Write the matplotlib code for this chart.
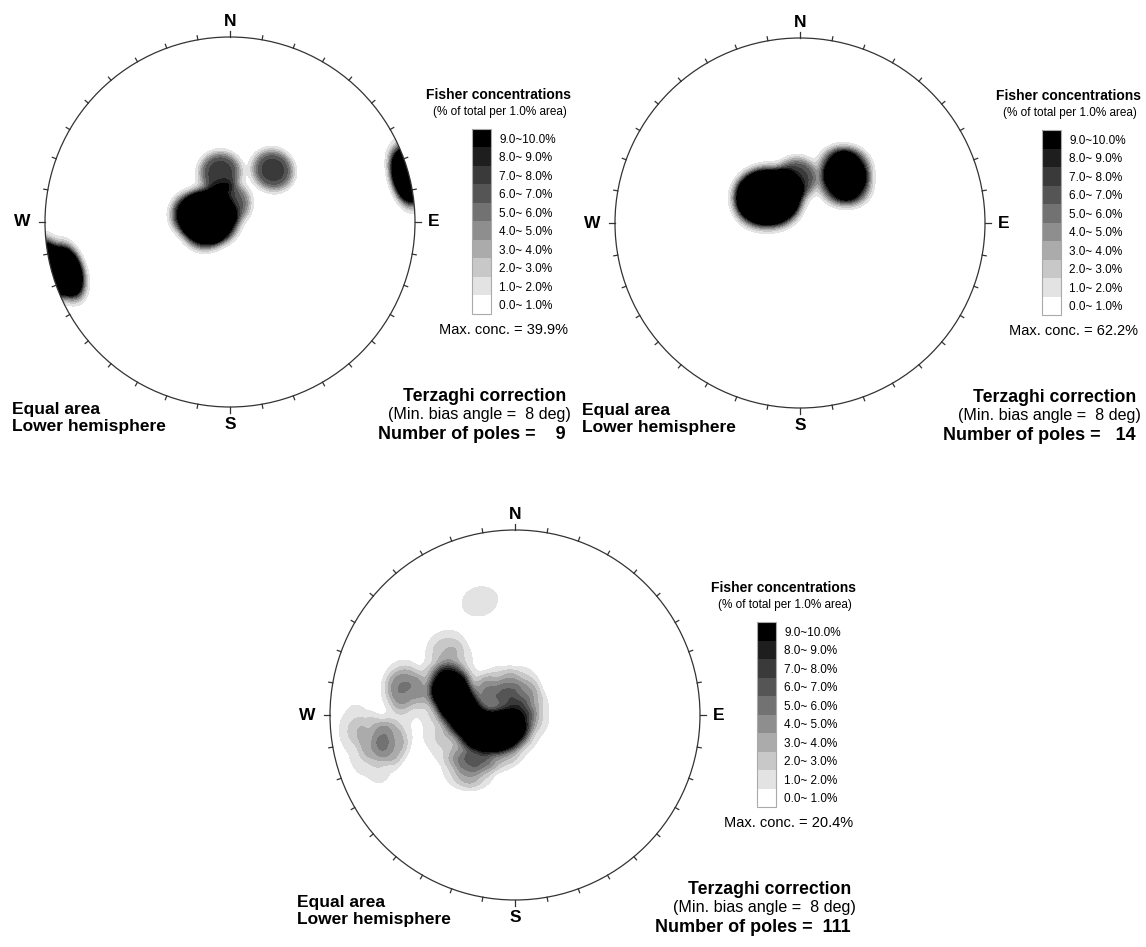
import numpy as np
import matplotlib
matplotlib.use('Agg')
import matplotlib.pyplot as plt
from matplotlib.colors import ListedColormap, BoundaryNorm
from matplotlib.cm import ScalarMappable
from matplotlib.patches import Circle

plt.rcParams['font.family'] = ['Liberation Sans', 'DejaVu Sans']

# figure size in pixels
W_PX, H_PX = 1146, 947

# poles: trend / plunge (deg) and Terzaghi weight
p1_trend = [281.8, 257.2, 302.6, 270.0, 348.7, 0.0, 39.5, 75.5, 253.0]
p1_plunge = [72.9, 78.3, 78.5, 84.3, 67.5, 81.7, 60.1, 1.5, 8.5]
p1_weight = [1.47, 1.47, 1.47, 1.47, 1.0, 0.87, 1.0, 2.3, 2.3]

p2_trend = [309.0, 326.9, 298.9, 318.4, 295.2, 327.5, 307.4, 308.9, 291.5,
            356.3, 36.0, 42.3, 45.7, 52.1]
p2_plunge = [71.7, 76.3, 66.2, 68.6, 74.4, 72.7, 65.9, 78.0, 69.5,
             70.0, 59.7, 56.8, 65.3, 61.7]
p2_weight = [1, 1, 1, 1, 1, 1, 1, 1, 1, 1, 1, 1, 1, 1]

# third set: poles grouped by orientation (number of poles)
p3_trend = [295.2, 287.6, 273.1, 252.0, 233.5, 205.0, 108.4,
            293.3, 281.5, 266.4, 239.9, 221.4, 188.1,
            308.7, 313.6, 316.6, 311.3,
            302.0, 306.5, 333.4, 351.5, 33.7, 9.5, 81.5, 130.9, 287.4, 303.7,
            228.4, 219.0, 202.1, 180.0, 223.9, 216.0, 243.4,
            289.9, 277.0, 262.4, 248.7,
            283.8, 289.2, 279.2, 280.9,
            260.7, 257.7, 265.0, 251.2, 259.4, 262.6, 249.2, 268.3,
            339.5, 346.3]
p3_plunge = [57.3, 60.4, 65.4, 71.3, 77.5, 82.6, 88.6,
             58.3, 63.5, 68.6, 74.2, 80.1, 86.8,
             47.0, 50.9, 44.8, 56.0,
             69.0, 75.2, 75.2, 81.2, 81.9, 76.6, 81.2, 81.4, 75.2, 81.9,
             63.5, 68.8, 72.3, 76.8, 55.7, 59.5, 60.0,
             50.3, 53.0, 56.1, 53.0,
             38.4, 34.1, 41.8, 34.4,
             24.0, 31.5, 19.1, 25.3, 12.3, 37.0, 16.7, 11.1,
             33.6, 37.9]
p3_count = [5, 6, 6, 7, 7, 6, 2,
            3, 3, 3, 3, 3, 3,
            1, 1, 1, 1,
            1, 2, 2, 1, 2, 2, 1, 1, 1, 1,
            2, 2, 2, 1, 2, 2, 1,
            2, 1, 1, 1,
            3, 1, 1, 1,
            2, 3, 1, 1, 1, 1, 1, 1,
            1, 1]

n_poles = [9, 14, 111]
max_conc = ['39.9%', '62.2%', '20.4%']

# legend classes
class_labels = ['0.0~ 1.0%', '1.0~ 2.0%', '2.0~ 3.0%', '3.0~ 4.0%', '4.0~ 5.0%',
                '5.0~ 6.0%', '6.0~ 7.0%', '7.0~ 8.0%', '8.0~ 9.0%', '9.0~10.0%']
grays = ['#ffffff', '#e3e3e3', '#c8c8c8', '#ababab', '#8e8e8e',
         '#727272', '#555555', '#3a3a3a', '#1e1e1e', '#000000']
cmap = ListedColormap(grays)

# counting cap of 1% of the hemisphere, softened edge
CAP = np.degrees(np.arccos(0.99))
SOFT = 1.3


def concentration(trend, plunge, weight, n=361):
    x = np.linspace(-1.15, 1.15, n)
    X, Y = np.meshgrid(x, x)
    r = np.minimum(np.hypot(X, Y), 1.0)
    th = 2 * np.arcsin(r / np.sqrt(2))
    az = np.arctan2(X, Y)
    g = np.stack([np.sin(th) * np.sin(az), np.sin(th) * np.cos(az), np.cos(th)], -1)
    t = np.radians(trend)
    p = np.radians(plunge)
    v = np.stack([np.cos(p) * np.sin(t), np.cos(p) * np.cos(t), np.sin(p)], -1)
    w = np.asarray(weight, float)
    ang = np.degrees(np.arccos(np.clip(np.abs(g @ v.T), 0, 1)))
    k = 1.0 / (1.0 + np.exp((ang - CAP) / SOFT))
    return X, Y, 100.0 * (k @ w) / w.sum()


fig = plt.figure(figsize=(W_PX / 100, H_PX / 100), dpi=100)


def fx(px):
    return px / W_PX


def fy(py):
    return 1 - py / H_PX


def draw_net(cx, cy, trend, plunge, weight, npoles, mx, R=185):
    s = 1.2
    ax = fig.add_axes([fx(cx - s * R), fy(cy + s * R), 2 * s * R / W_PX, 2 * s * R / H_PX])
    ax.set_xlim(-s, s)
    ax.set_ylim(-s, s)
    ax.axis('off')

    X, Y, D = concentration(trend, plunge, weight)
    cs = ax.contourf(X, Y, D, levels=list(range(10)) + [1e6], colors=grays)
    cs.set_clip_path(Circle((0, 0), 1.0, transform=ax.transData))

    ax.add_patch(Circle((0, 0), 1.0, fill=False, ec='#333333', lw=0.9))
    for a in range(0, 360, 10):
        ar = np.radians(a)
        ln = 0.034 if a % 90 == 0 else 0.022
        ax.plot([np.sin(ar), (1 + ln) * np.sin(ar)], [np.cos(ar), (1 + ln) * np.cos(ar)],
                color='#333333', lw=0.9)

    kw = dict(fontsize=12.5, fontweight='bold', ha='center', va='center')
    ax.text(0, 1.082, 'N', **kw)
    ax.text(0, -1.097, 'S', **kw)
    ax.text(-1.125, 0, 'W', **kw)
    ax.text(1.103, 0, 'E', **kw)

    # texts to the side
    fig.text(fx(cx - 218), fy(cy + 187), 'Equal area', fontsize=12.5, fontweight='bold',
             ha='left', va='center')
    fig.text(fx(cx - 218), fy(cy + 204), 'Lower hemisphere', fontsize=12.5, fontweight='bold',
             ha='left', va='center')

    fig.text(fx(cx + 341), fy(cy - 127), 'Fisher concentrations', fontsize=10,
             fontweight='bold', ha='right', va='center')
    fig.text(fx(cx + 337), fy(cy - 110), '(% of total per 1.0% area)', fontsize=8.5,
             ha='right', va='center')

    cax = fig.add_axes([fx(cx + 242), fy(cy + 92), 19 / W_PX, 185 / H_PX])
    sm = ScalarMappable(norm=BoundaryNorm(np.arange(11), 10), cmap=cmap)
    cb = fig.colorbar(sm, cax=cax, ticks=np.arange(10) + 0.5)
    cb.set_ticklabels(class_labels)
    cb.ax.minorticks_off()
    cb.ax.tick_params(which='both', length=0, pad=6, labelsize=8.5)
    cb.outline.set_edgecolor('#aaaaaa')
    cb.outline.set_linewidth(0.8)

    fig.text(fx(cx + 338), fy(cy + 108), 'Max. conc. = ' + mx, fontsize=10.5,
             ha='right', va='center')
    fig.text(fx(cx + 336), fy(cy + 174), 'Terzaghi correction', fontsize=12.7,
             fontweight='bold', ha='right', va='center')
    fig.text(fx(cx + 341), fy(cy + 192), '(Min. bias angle =  8 deg)', fontsize=11.6,
             ha='right', va='center')
    fig.text(fx(cx + 336), fy(cy + 212), 'Number of poles = ' + str(npoles).rjust(4),
             fontsize=13, fontweight='bold', ha='right', va='center')


draw_net(230, 222, p1_trend, p1_plunge, p1_weight, n_poles[0], max_conc[0])
draw_net(800, 223, p2_trend, p2_plunge, p2_weight, n_poles[1], max_conc[1])
draw_net(515, 715, p3_trend, p3_plunge, p3_count, n_poles[2], max_conc[2])

fig.savefig('out.png', dpi=100, facecolor='white')
